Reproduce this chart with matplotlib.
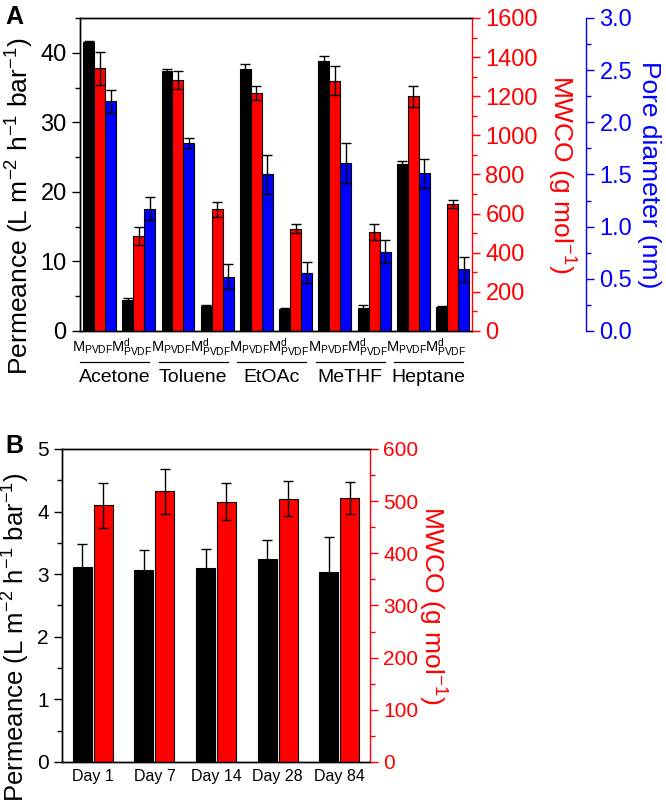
import matplotlib
matplotlib.use('Agg')
import matplotlib.pyplot as plt
import matplotlib.transforms as mtransforms
from matplotlib.ticker import MultipleLocator
import numpy as np

plt.rcParams['font.family'] = ['Liberation Sans', 'DejaVu Sans']
plt.rcParams['mathtext.fontset'] = 'custom'
plt.rcParams['mathtext.rm'] = 'Liberation Sans'
plt.rcParams['mathtext.it'] = 'Liberation Sans:italic'
plt.rcParams['mathtext.bf'] = 'Liberation Sans:bold'
plt.rcParams['axes.linewidth'] = 1.0

# panel A: solvent stability of the two membranes
solvents = ['Acetone', 'Toluene', 'EtOAc', 'MeTHF', 'Heptane']
membranes = [r'$\mathrm{M}_{\mathrm{PVDF}}$', r'$\mathrm{M}^{\mathrm{d}}_{\mathrm{PVDF}}$']

perm_a = [41.5, 4.5, 37.4, 3.6, 37.7, 3.2, 38.8, 3.3, 24.0, 3.4]
perm_a_err = [0.2, 0.3, 0.2, 0.1, 0.7, 0.1, 0.8, 0.4, 0.5, 0.2]
mwco_a = [1342, 487, 1283, 622, 1218, 523, 1280, 505, 1200, 650]
mwco_a_err = [85, 46, 47, 37, 36, 22, 73, 41, 54, 21]
pore_a = [2.20, 1.17, 1.80, 0.52, 1.50, 0.56, 1.61, 0.76, 1.51, 0.59]
pore_a_err = [0.11, 0.11, 0.05, 0.12, 0.19, 0.10, 0.19, 0.11, 0.14, 0.12]

# panel B: long-term stability
days = ['Day 1', 'Day 7', 'Day 14', 'Day 28', 'Day 84']
perm_b = [3.12, 3.07, 3.10, 3.24, 3.03]
perm_b_err = [0.36, 0.32, 0.31, 0.31, 0.56]
mwco_b = [492, 519, 499, 505, 506]
mwco_b_err = [43, 43, 36, 34, 31]

RED = '#ff0000'
BLUE = '#0000ff'
ekw = dict(ecolor='black', elinewidth=1.0, capsize=3.4, capthick=1.0)


def style_y(ax, color, major, minor, size):
    ax.yaxis.set_major_locator(MultipleLocator(major))
    ax.yaxis.set_minor_locator(MultipleLocator(minor))
    ax.tick_params(axis='y', which='major', direction='out', length=6, width=1,
                   labelsize=size, colors=color)
    ax.tick_params(axis='y', which='minor', direction='out', length=3.5, width=1,
                   colors=color)


fig = plt.figure(figsize=(6.66, 8.09), dpi=100)

# ---------------- panel A ----------------
ax = fig.add_axes([0.120, 0.5909, 0.589, 0.3869])
ax_r = ax.twinx()
ax_b = ax.twinx()

x = np.arange(len(perm_a))
w = 0.28
ax.bar(x - w, perm_a, w, yerr=perm_a_err, color='black', edgecolor='black',
       linewidth=0.8, error_kw=ekw)
ax_r.bar(x, mwco_a, w, yerr=mwco_a_err, color=RED, edgecolor='black',
         linewidth=0.8, error_kw=ekw)
ax_b.bar(x + w, pore_a, w, yerr=pore_a_err, color=BLUE, edgecolor='black',
         linewidth=0.8, error_kw=ekw)

ax.set_xlim(-0.5, 9.5)
ax.set_ylim(0, 45)
ax_r.set_ylim(0, 1600)
ax_b.set_ylim(0, 3.0)

style_y(ax, 'black', 10, 5, 17)
style_y(ax_r, RED, 200, 100, 17)
style_y(ax_b, BLUE, 0.5, 0.25, 17)
ax.set_xticks([])

ax.spines['right'].set_visible(False)
ax_r.spines['right'].set_color(RED)
ax_b.spines['right'].set_position(('axes', 1.291))
ax_b.spines['right'].set_color(BLUE)
for s in ['left', 'top', 'bottom']:
    ax_b.spines[s].set_visible(False)

ax.set_ylabel(r'Permeance (L m$^{-2}$ h$^{-1}$ bar$^{-1}$)', fontsize=19)
ax.yaxis.set_label_coords(-0.112, 0.40)
ax_r.set_ylabel(r'MWCO (g mol$^{-1}$)', fontsize=19, color=RED,
                rotation=270, va='bottom')
ax_r.yaxis.set_label_coords(1.185, 0.5)
ax_b.set_ylabel('Pore diameter (nm)', fontsize=19, color=BLUE,
                rotation=270, va='bottom')
ax_b.yaxis.set_label_coords(1.42, 0.5)

trans = mtransforms.blended_transform_factory(ax.transData, ax.transAxes)
for i in x:
    ax.text(i - 0.17, -0.067, membranes[i % 2], transform=trans, fontsize=10.5,
            ha='center', va='baseline')
for k, name in enumerate(solvents):
    c = 2 * k + 0.39
    ax.plot([c - 0.88, c + 0.88], [-0.099, -0.099], transform=trans,
            color='black', lw=0.9, clip_on=False)
    ax.text(c, -0.163, name, transform=trans, fontsize=14,
            ha='center', va='baseline')

fig.text(0.008, 0.994, 'A', fontsize=18, fontweight='bold', va='top')

# ---------------- panel B ----------------
axB = fig.add_axes([0.0931, 0.0581, 0.4625, 0.3869])
axB_r = axB.twinx()

xb = np.arange(len(days))
wb = 0.31
axB.bar(xb - 0.17, perm_b, wb, yerr=perm_b_err, color='black',
        edgecolor='black', linewidth=0.8, error_kw=ekw)
axB_r.bar(xb + 0.17, mwco_b, wb, yerr=mwco_b_err, color=RED,
          edgecolor='black', linewidth=0.8, error_kw=ekw)

axB.set_xlim(-0.5, 4.5)
axB.set_ylim(0, 5)
axB_r.set_ylim(0, 600)
style_y(axB, 'black', 1, 0.5, 15)
style_y(axB_r, RED, 100, 50, 15)
axB.spines['right'].set_visible(False)
axB_r.spines['right'].set_color(RED)

axB.set_xticks(xb)
axB.set_xticklabels(days, fontsize=11.5)
axB.tick_params(axis='x', length=0, pad=5)

axB.set_ylabel(r'Permeance (L m$^{-2}$ h$^{-1}$ bar$^{-1}$)', fontsize=18.5)
axB.yaxis.set_label_coords(-0.098, 0.40)
axB_r.set_ylabel(r'MWCO (g mol$^{-1}$)', fontsize=19, color=RED,
                 rotation=270, va='bottom')
axB_r.yaxis.set_label_coords(1.15, 0.5)

fig.text(0.008, 0.463, 'B', fontsize=18, fontweight='bold', va='top')

fig.savefig('out.png', dpi=100)
